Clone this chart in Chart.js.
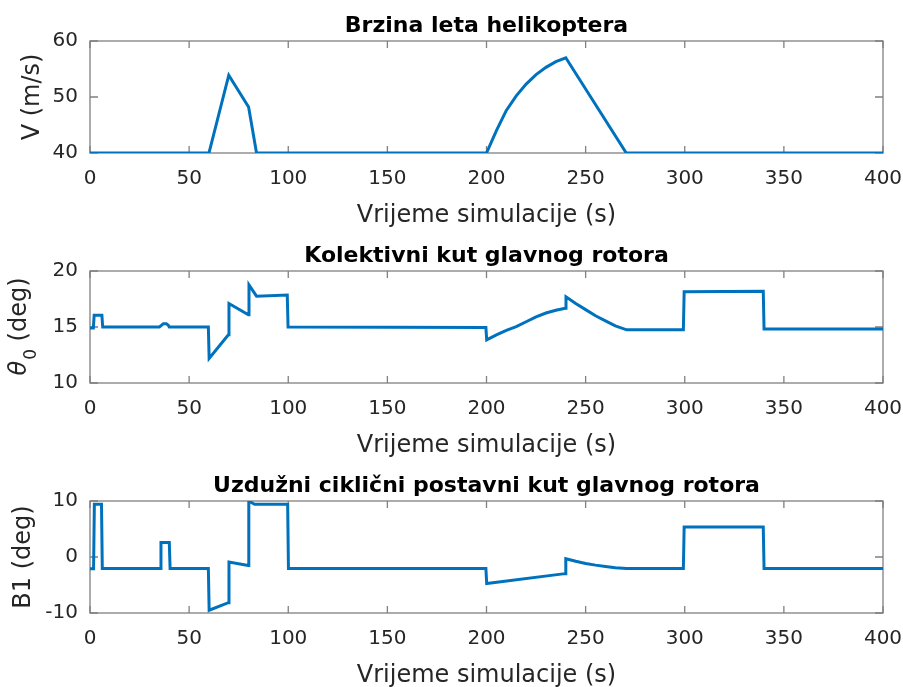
<!DOCTYPE html>
<html>
<head>
<meta charset="utf-8">
<script src="https://cdn.jsdelivr.net/npm/chart.js@4.4.1/dist/chart.umd.min.js"></script>
<style>
  html, body { margin: 0; padding: 0; background: #fff; overflow: hidden; width: 903px; height: 687px; }
  .panel { position: absolute; left: 0; width: 903px; height: 230px; }
  canvas { display: block; }
</style>
</head>
<body>
<div class="panel" style="top:0px"><canvas id="c1" width="903" height="230"></canvas></div>
<div class="panel" style="top:230px"><canvas id="c2" width="903" height="230"></canvas></div>
<div class="panel" style="top:460px"><canvas id="c3" width="903" height="230"></canvas></div>
<script>
// ---------- data ----------
const xTicks = [0, 50, 100, 150, 200, 250, 300, 350, 400];
const xLabel = 'Vrijeme simulacije (s)';

const titles = ['Brzina leta helikoptera', 'Kolektivni kut glavnog rotora', 'Uzdužni ciklični postavni kut glavnog rotora'];

// Plot 1: flight speed V (m/s)
const timeV  = [0, 60, 70, 80, 84, 200, 205, 210, 215, 220, 225, 230, 235, 240, 270.5, 400];
const speedV = [40, 40, 53.9, 48.2, 40, 40, 44, 47.6, 50.2, 52.3, 54, 55.3, 56.3, 57, 40, 40];
const yTicksV = [40, 50, 60];

// Plot 2: collective pitch theta0 (deg)
const timeTheta = [0, 1.7, 2.1, 6.0, 6.4, 35, 36, 37, 38.5, 39.5, 40, 59.7, 60.1, 69.8, 70.1, 79.9, 80.2, 84, 99.5, 99.9,
                   199.7, 200.1, 205, 210, 215, 220, 225, 230, 235, 239.7, 240.1, 245, 250, 255, 260, 265, 270.7,
                   299.3, 299.7, 339.6, 340, 400];
const theta0 = [14.9, 14.9, 16.05, 16.05, 15.0, 15.0, 15.15, 15.3, 15.3, 15.15, 15.0, 15.0, 12.2, 14.3, 17.1, 16.1, 18.75, 17.75, 17.85, 15.0,
                14.95, 13.85, 14.3, 14.7, 15.03, 15.47, 15.9, 16.25, 16.5, 16.68, 17.7, 17.1, 16.55, 16.0, 15.55, 15.1, 14.75,
                14.75, 18.15, 18.2, 14.83, 14.83];
const yTicksTheta = [10, 15, 20];

// Plot 3: longitudinal cyclic B1 (deg)
const timeB1 = [0, 1.8, 2.2, 5.8, 6.2, 35.4, 35.8, 40.0, 40.4, 59.7, 60.1, 69.8, 70.1, 79.8, 80.1, 83, 99.7, 100.1,
                199.7, 200.1, 239.6, 240, 245, 250, 255, 260, 265, 270.7, 299.3, 299.7, 339.6, 340, 400];
const b1 = [-2.1, -2.1, 9.4, 9.4, -2.07, -2.07, 2.6, 2.6, -2.07, -2.07, -9.5, -8.15, -0.9, -1.5, 10, 9.4, 9.4, -2.07,
            -2.07, -4.75, -2.97, -0.3, -0.75, -1.15, -1.45, -1.7, -1.93, -2.07, -2.07, 5.36, 5.36, -2.07, -2.07];
const yTicksB1 = [-10, 0, 10];

// ---------- style ----------
const FONT = '"DejaVu Sans", "Liberation Sans", sans-serif';
const TEXT = '#262626';
const LINE = '#0072BD';
Chart.defaults.font.family = FONT;
Chart.defaults.color = TEXT;

const framePlugin = {
  id: 'frame',
  beforeDatasetsDraw(chart) {
    const { ctx, chartArea: a, scales: { x, y } } = chart;
    ctx.save();
    ctx.strokeStyle = '#808080';
    ctx.lineWidth = 1.3;
    ctx.strokeRect(a.left, a.top, a.right - a.left, a.bottom - a.top);
    ctx.beginPath();
    x.ticks.forEach(t => {
      const px = x.getPixelForValue(t.value);
      ctx.moveTo(px, a.bottom); ctx.lineTo(px, a.bottom - 7);
      ctx.moveTo(px, a.top); ctx.lineTo(px, a.top + 7);
    });
    y.ticks.forEach(t => {
      const py = y.getPixelForValue(t.value);
      ctx.moveTo(a.left, py); ctx.lineTo(a.left + 8, py);
      ctx.moveTo(a.right, py); ctx.lineTo(a.right - 8, py);
    });
    ctx.stroke();
    ctx.restore();
  }
};

const thetaLabelPlugin = {
  id: 'thetaLabel',
  afterDraw(chart) {
    const { ctx, chartArea: a } = chart;
    const cy = (a.top + a.bottom) / 2;
    ctx.save();
    ctx.translate(26, cy);
    ctx.rotate(-Math.PI / 2);
    ctx.fillStyle = TEXT;
    ctx.textBaseline = 'alphabetic';
    ctx.textAlign = 'left';
    const fIt = 'italic 24px ' + FONT, fSub = '17px ' + FONT, fMain = '24px ' + FONT;
    ctx.font = fIt; const w1 = ctx.measureText('θ').width;
    ctx.font = fSub; const w2 = ctx.measureText('0').width;
    ctx.font = fMain; const w3 = ctx.measureText(' (deg)').width;
    let u = -(w1 + w2 + w3) / 2;
    ctx.font = fIt; ctx.fillText('θ', u, 0); u += w1 + 1;
    ctx.font = fSub; ctx.fillText('0', u, 10); u += w2;
    ctx.font = fMain; ctx.fillText(' (deg)', u, 0);
    ctx.restore();
  }
};

function build(id, times, vals, yTicks, title, yTitle, yTitlePad, extra) {
  const data = times.map((t, i) => ({ x: t, y: vals[i] }));
  return new Chart(document.getElementById(id), {
    type: 'line',
    data: {
      datasets: [{
        data,
        borderColor: LINE,
        borderWidth: 3,
        pointRadius: 0,
        tension: 0,
        fill: false
      }]
    },
    options: {
      responsive: false,
      animation: false,
      devicePixelRatio: 1,
      layout: { padding: { left: 0, right: 0, top: 0, bottom: 0 } },
      plugins: {
        legend: { display: false },
        tooltip: { enabled: false },
        title: {
          display: true,
          text: title,
          fullSize: false,
          color: '#000',
          font: { size: 22, weight: 'bold', family: FONT },
          padding: { top: 13, bottom: 1.6 }
        }
      },
      scales: {
        x: {
          type: 'linear',
          min: xTicks[0],
          max: xTicks[xTicks.length - 1],
          afterBuildTicks: s => { s.ticks = xTicks.map(v => ({ value: v })); },
          afterFit: s => { s.height = 77; s.paddingLeft = 0; s.paddingRight = 20; },
          grid: { display: false, drawTicks: false },
          border: { display: false },
          ticks: { font: { size: 20 }, color: TEXT, padding: 14, autoSkip: false, maxRotation: 0, minRotation: 0 },
          title: { display: true, text: xLabel, color: TEXT, font: { size: 24 }, padding: { top: 0, bottom: 0 } }
        },
        y: {
          min: yTicks[0],
          max: yTicks[yTicks.length - 1],
          afterBuildTicks: s => { s.ticks = yTicks.map(v => ({ value: v })); },
          afterFit: s => { s.width = 90; },
          grid: { display: false, drawTicks: false },
          border: { display: false },
          ticks: { font: { size: 20 }, color: TEXT, padding: 12 },
          title: { display: !!yTitle, text: yTitle || '', color: TEXT, font: { size: 24 }, padding: { top: yTitlePad, bottom: 0 } }
        }
      }
    },
    plugins: [framePlugin].concat(extra || [])
  });
}

build('c1', timeV, speedV, yTicksV, titles[0], 'V (m/s)', 18.3);
build('c2', timeTheta, theta0, yTicksTheta, titles[1], null, 0, [thetaLabelPlugin]);
build('c3', timeB1, b1, yTicksB1, titles[2], 'B1 (deg)', 9.5);
</script>
</body>
</html>
